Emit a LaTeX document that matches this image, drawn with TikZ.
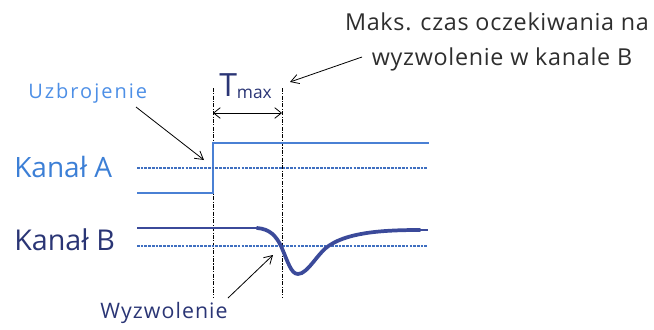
\documentclass[tikz,border=0pt]{standalone}
\usepackage{fontspec}
\setmainfont{Open Sans}
\usetikzlibrary{arrows.meta}
\definecolor{lblue}{HTML}{4D8FE6}
\definecolor{ablue}{HTML}{3C7FD6}
\definecolor{bnavy}{HTML}{2A3575}
\definecolor{lineA}{HTML}{4A80D4}
\definecolor{curveB}{HTML}{3B4A9A}
\definecolor{thr}{HTML}{3F6FC0}
\definecolor{txtgray}{HTML}{2E2E2E}
\begin{document}
\begin{tikzpicture}[x=0.75pt,y=-0.75pt,
  lbl/.style={inner sep=0pt, anchor=base west},
  guide/.style={black, line width=0.7pt, dash pattern=on 3pt off 1pt on 0.8pt off 1pt},
  thresh/.style={thr, line width=1pt, dash pattern=on 2pt off 0.8pt},
  pointer/.style={black, line width=0.6pt, -{Straight Barb[length=6pt,width=7pt]}},
  dim/.style={black, line width=0.6pt, {Straight Barb[length=5pt,width=8pt]}-{Straight Barb[length=5pt,width=8pt]}},
  note/.style={inner sep=0pt, anchor=base, text=txtgray,
      font=\fontsize{17.5}{20}\selectfont\addfontfeature{LetterSpace=3}}]
\useasboundingbox (0,0) rectangle (654,329);

% labels
\node[lbl, text=lblue, font=\fontsize{15}{16}\selectfont\addfontfeature{LetterSpace=10}] (uzb) at (28,98) {Uzbrojenie};
\node[lbl, text=ablue, font=\fontsize{21}{24}\selectfont] (ka) at (14,177) {Kanał A};
\node[lbl, text=bnavy, font=\fontsize{21.5}{24}\selectfont] (kb) at (14,250) {Kanał B};
\node[lbl, text=bnavy, font=\fontsize{16}{18}\selectfont\addfontfeature{LetterSpace=5}] (wyz) at (100,318) {Wyzwolenie};
\node[note] (maks1) at (497,30) {Maks. czas oczekiwania na};
\node[note] (maks2) at (502,65) {wyzwolenie w kanale B};
\node[lbl, text=bnavy] (tmax) at (219,96) {\fontsize{24}{26}\selectfont T\raisebox{-1.5pt}{\fontsize{13}{14}\selectfont max}};

% guide lines
\coordinate (g1t) at (213,88);
\coordinate (g1b) at (213,298);
\coordinate (g2t) at (282,88);
\coordinate (g2b) at (282,298);
\draw[guide] (g1t) -- (g1b);
\draw[guide] (g2t) -- (g2b);
\coordinate (d1) at (213,113);
\coordinate (d2) at (282,113);
\draw[dim] (d1) -- (d2);

% channel A
\coordinate (a0) at (137,193);
\coordinate (a1) at (213,193);
\coordinate (a2) at (213,143);
\coordinate (a3) at (429,143);
\draw[lineA, line width=1.4pt] (a0) -- (a1) -- (a2) -- (a3);
\coordinate (ta0) at (137,168);
\coordinate (ta1) at (428,168);
\draw[thresh] (ta0) -- (ta1);

% channel B
\coordinate (tb0) at (137,246);
\coordinate (tb1) at (428,246);
\draw[thresh] (tb0) -- (tb1);
\coordinate (b0) at (137,228);
\coordinate (b1) at (257,228);
\draw[curveB, line width=1pt] (b0) -- (b1);
\draw[curveB, line width=2.8pt, line cap=round]
  (b1) .. controls (270,229) and (276,236) .. (281,246)
  .. controls (288,262) and (291,274) .. (298,274)
  .. controls (308,274) and (318,252) .. (330,245)
  .. controls (350,232) and (385,230) .. (420,230);
\coordinate (b2) at (420,230);
\coordinate (b3) at (428,230);
\draw[curveB, line width=0.8pt] (b2) -- (b3);

% pointers
\coordinate (pu) at (204,160);
\coordinate (pw) at (273,255);
\coordinate (pm) at (290,82);
\coordinate (su) at (136,107);
\coordinate (sw) at (228,298);
\coordinate (sm) at (362,57);
\draw[pointer] (su) -- (pu);
\draw[pointer] (sw) -- (pw);
\draw[pointer] (sm) -- (pm);
\end{tikzpicture}
\end{document}
